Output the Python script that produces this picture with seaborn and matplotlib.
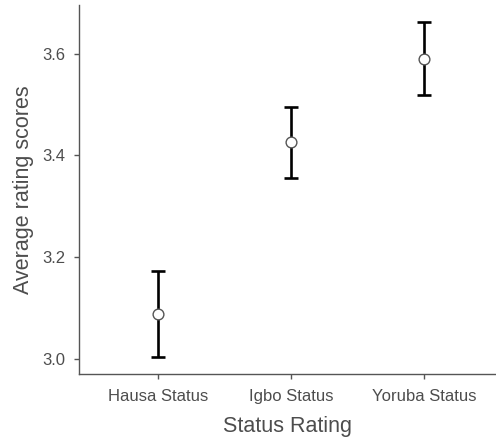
import matplotlib
matplotlib.use("Agg")
import matplotlib.pyplot as plt
import seaborn as sns
import pandas as pd
import numpy as np

categories = ["Hausa Status", "Igbo Status", "Yoruba Status"]
mean_scores = [3.088, 3.426, 3.589]
lower_ci = [3.003, 3.356, 3.518]
upper_ci = [3.172, 3.496, 3.663]

df = pd.DataFrame({"status": categories, "score": mean_scores,
                   "lo": lower_ci, "hi": upper_ci})

sns.set_theme(style="ticks")
plt.rcParams["font.family"] = ["Liberation Sans", "DejaVu Sans"]

fig = plt.figure(figsize=(4.96, 4.38), dpi=100)
ax = fig.add_axes([79 / 496, 64 / 438, 417 / 496, 369 / 438])

yerr = np.vstack([df["score"] - df["lo"], df["hi"] - df["score"]])
ax.errorbar(df["status"], df["score"], yerr=yerr, fmt="none",
            ecolor="black", elinewidth=1.9, capsize=5, capthick=1.9, zorder=2)
sns.scatterplot(data=df, x="status", y="score", ax=ax, s=60,
                color="white", edgecolor="#555555", linewidth=1.0, zorder=3)

ax.set_xlim(-0.594, 2.541)
ax.set_ylim(2.970, 3.696)
ax.set_yticks([3.0, 3.2, 3.4, 3.6])
ax.set_yticklabels(["3.0", "3.2", "3.4", "3.6"])

for side in ["top", "right"]:
    ax.spines[side].set_visible(False)
for side in ["left", "bottom"]:
    ax.spines[side].set_color("#555555")
    ax.spines[side].set_linewidth(1.0)

ax.tick_params(axis="both", colors="#555555", labelcolor="#4d4d4d",
               labelsize=12, length=3.5, width=1.0)
ax.tick_params(axis="x", pad=7)
ax.tick_params(axis="y", pad=6)
ax.set_xlabel("Status Rating", fontsize=15.5, color="#4d4d4d", labelpad=9)
ax.set_ylabel("Average rating scores", fontsize=15.5, color="#4d4d4d", labelpad=6)

fig.savefig("out.png", dpi=100)
